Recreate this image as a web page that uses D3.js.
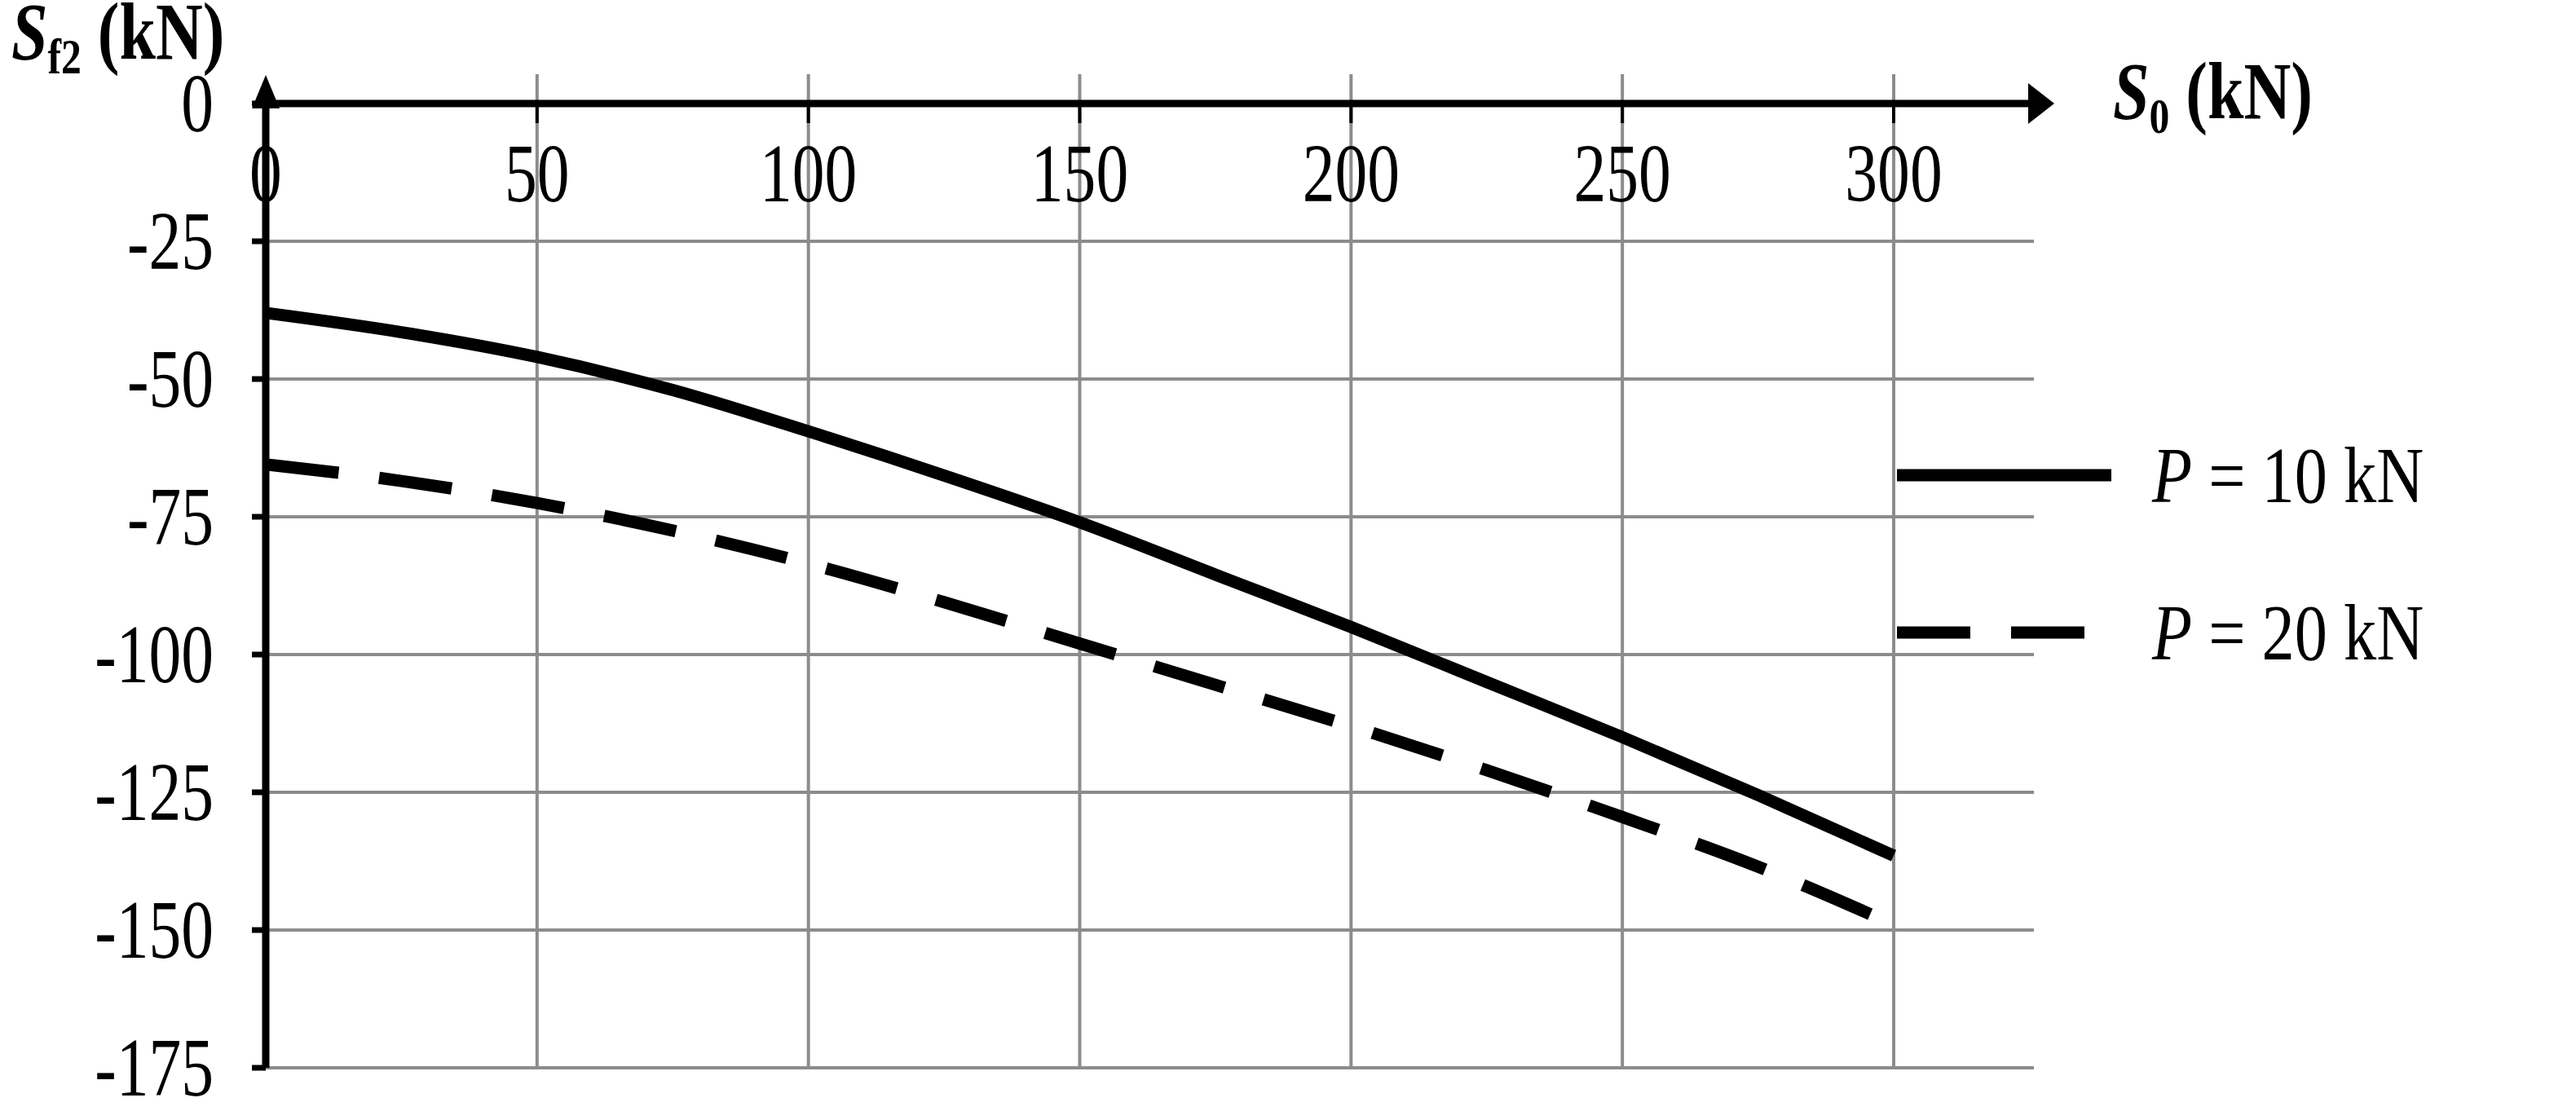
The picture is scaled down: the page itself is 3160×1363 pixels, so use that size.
<!DOCTYPE html><html><head><meta charset="utf-8"><script src="https://cdn.jsdelivr.net/npm/d3@7"></script>
<style>body{margin:0;background:#fff}text{font-family:"Liberation Serif","Times New Roman",serif}</style></head><body>
<svg id="c" width="3160" height="1363"></svg>
<script>
const xVals=[0,25,50,75,100,125,150,175,200,225,250,275,300];
const p10=[-38,-41.5,-46,-52,-59.5,-67.5,-76,-85.5,-95,-105,-115,-125.5,-136.5];
const p20=[-65.5,-68.5,-72.5,-77.5,-83.5,-90.5,-98,-105.5,-113,-121,-129.5,-138.5,-149];
const xTicks=[0,50,100,150,200,250,300];
const yTicks=[0,-25,-50,-75,-100,-125,-150,-175];
const series=[{name:"10",vals:p10,dash:null},{name:"20",vals:p20,dash:"90,50"}];
const svg=d3.select("#c");
const x=d3.scaleLinear().domain([0,300]).range([326,2323]);
const y=d3.scaleLinear().domain([0,-175]).range([127,1310]);
const gridRight=2495;
const SX=0.78;
svg.append("g").selectAll("line").data(xTicks.slice(1)).join("line")
 .attr("x1",d=>x(d)).attr("x2",d=>x(d)).attr("y1",91).attr("y2",y(-175)).attr("stroke","#8c8c8c").attr("stroke-width",4);
svg.append("g").selectAll("line").data(yTicks.slice(1)).join("line")
 .attr("x1",x(0)).attr("x2",gridRight).attr("y1",d=>y(d)).attr("y2",d=>y(d)).attr("stroke","#8c8c8c").attr("stroke-width",4);
svg.append("g").selectAll("line").data(xTicks.slice(1)).join("line")
 .attr("x1",d=>x(d)).attr("x2",d=>x(d)).attr("y1",y(0)).attr("y2",y(0)+24).attr("stroke","#000").attr("stroke-width",4);
svg.append("g").selectAll("line").data(yTicks).join("line")
 .attr("x1",x(0)-17).attr("x2",x(0)).attr("y1",d=>y(d)).attr("y2",d=>y(d)).attr("stroke","#000").attr("stroke-width",7);
svg.append("line").attr("x1",x(0)).attr("x2",2490).attr("y1",y(0)).attr("y2",y(0)).attr("stroke","#000").attr("stroke-width",9);
svg.append("path").attr("d",`M2488,${y(0)-25}L2520,${y(0)}L2488,${y(0)+25}Z`).attr("fill","#000");
svg.append("line").attr("x1",x(0)).attr("x2",x(0)).attr("y1",y(-175)).attr("y2",120).attr("stroke","#000").attr("stroke-width",9);
svg.append("path").attr("d",`M${x(0)-17},133L${x(0)},92L${x(0)+17},133Z`).attr("fill","#000");
svg.append("g").selectAll("text").data(xTicks).join("text")
 .attr("transform",d=>`translate(${x(d)},247) scale(${SX},1)`).attr("text-anchor","middle").attr("font-size",102).text(d=>d);
svg.append("g").selectAll("text").data(yTicks).join("text")
 .attr("transform",d=>`translate(262,${y(d)+34}) scale(${SX},1)`).attr("text-anchor","end").attr("font-size",102).text(d=>d);
function title(tx,ty,sub){
 const t=svg.append("text").attr("transform",`translate(${tx},${ty}) scale(0.8,1)`).attr("font-size",100).attr("font-weight","bold");
 t.append("tspan").attr("font-style","italic").text("S");
 t.append("tspan").attr("font-size",62).attr("dy",18).text(sub);
 t.append("tspan").attr("dy",-18).text(" (kN)");
}
title(14,72,"f2");
title(2592,145,"0");
const line=d3.line().x((d,i)=>x(xVals[i])).y(d=>y(d)).curve(d3.curveMonotoneX);
series.forEach(s=>{
 svg.append("path").attr("d",line(s.vals)).attr("fill","none").attr("stroke","#000").attr("stroke-width",15)
  .attr("stroke-dasharray",s.dash);
});
series.forEach((s,i)=>{
 const ly=583+i*193;
 svg.append("line").attr("x1",2327).attr("x2",2590).attr("y1",ly).attr("y2",ly).attr("stroke","#000").attr("stroke-width",15).attr("stroke-dasharray",s.dash);
 const t=svg.append("text").attr("transform",`translate(2640,${ly+33}) scale(0.82,1)`).attr("font-size",98);
 t.append("tspan").attr("font-style","italic").text("P");
 t.append("tspan").text(" = "+s.name+" kN");
});
</script></body></html>
